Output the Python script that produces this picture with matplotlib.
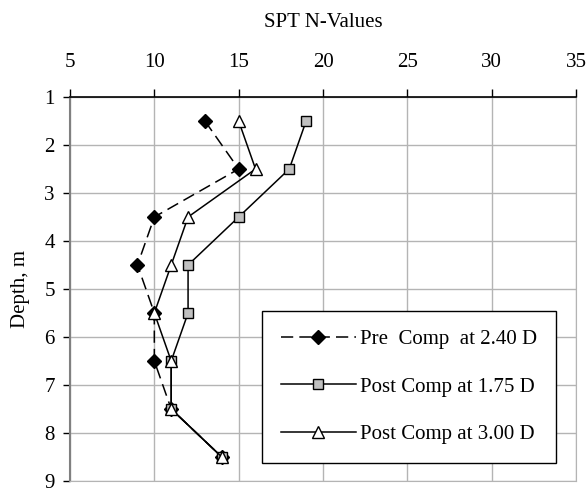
import matplotlib
matplotlib.use("Agg")
import matplotlib.pyplot as plt

plt.rcParams['font.family'] = ['Liberation Serif', 'DejaVu Serif']

depth = [1.5, 2.5, 3.5, 4.5, 5.5, 6.5, 7.5, 8.5]
pre_240 = [13, 15, 10, 9, 10, 10, 11, 14]
post_175 = [19, 18, 15, 12, 12, 11, 11, 14]
post_300 = [15, 16, 12, 11, 10, 11, 11, 14]
labels = ["Pre  Comp  at 2.40 D", "Post Comp at 1.75 D", "Post Comp at 3.00 D"]
xticks = [5, 10, 15, 20, 25, 30, 35]
yticks = [1, 2, 3, 4, 5, 6, 7, 8, 9]

fig = plt.figure(figsize=(5.87, 4.93), dpi=100)
ax = fig.add_axes([70/587, 12/493, 506/587, 384/493])

grid_c = '#b4b4b4'
ax.plot(pre_240, depth, color='black', lw=1.1, dashes=(8, 4),
        marker='D', ms=7, mfc='black', mec='black', label=labels[0], zorder=3)
ax.plot(post_175, depth, color='black', lw=1.1,
        marker='s', ms=7, mfc='#c0c0c0', mec='black', mew=1.0, label=labels[1], zorder=4)
ax.plot(post_300, depth, color='black', lw=1.1,
        marker='^', ms=8, mfc='white', mec='black', mew=1.0, label=labels[2], zorder=5)

ax.set_xlim(5, 35)
ax.set_ylim(9, 1)
ax.set_xticks(xticks)
ax.set_yticks(yticks)
ax.xaxis.tick_top()
ax.xaxis.set_label_position('top')
ax.grid(True, color=grid_c, lw=1.0)
ax.set_axisbelow(True)

ax.spines['top'].set_color('black')
ax.spines['top'].set_linewidth(1.2)
ax.spines['left'].set_color('#808080')
ax.spines['left'].set_linewidth(1.5)
ax.spines['right'].set_color(grid_c)
ax.spines['bottom'].set_color(grid_c)

ax.tick_params(axis='x', which='major', direction='out', length=6, width=1,
               color='black', labelsize=15, pad=12, top=True, bottom=False)
ax.tick_params(axis='y', which='major', direction='out', length=5, width=1,
               color='black', labelsize=15, pad=6)
for tk in ax.yaxis.get_major_ticks():
    tk.label1.set_va('center_baseline')

ax.set_xlabel('SPT N-Values', fontsize=15)
ax.set_ylabel('Depth, m', fontsize=15)
ax.xaxis.set_label_coords(0.5, (481-22)/384)
ax.yaxis.set_label_coords((21-70)/506, 0.5)
ax.xaxis.label.set_va('center')
ax.yaxis.label.set_va('center')

leg = ax.legend(loc='lower right', bbox_to_anchor=((556-70)/506, (481-463)/384),
                borderaxespad=0, fontsize=15, frameon=True, fancybox=False,
                edgecolor='black', framealpha=1, handlelength=3.6,
                labelspacing=1.35, borderpad=0.9, handletextpad=0.2)
leg.get_frame().set_linewidth(1.0)

fig.savefig('out.png', dpi=100)
